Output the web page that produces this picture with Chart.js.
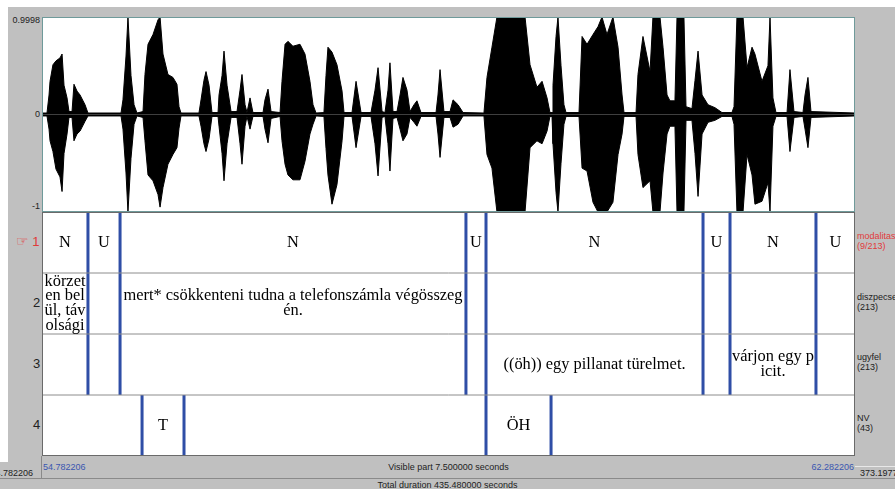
<!DOCTYPE html>
<html>
<head>
<meta charset="utf-8">
<script src="https://cdn.jsdelivr.net/npm/chart.js@4.4.1/dist/chart.umd.min.js"></script>
<style>
  html, body { margin: 0; padding: 0; background: #fff; }
  #frame { position: relative; width: 895px; height: 489px; background: #c0c0c0; overflow: hidden;
           font-family: "Liberation Sans", Arial, sans-serif; }
  .abs { position: absolute; white-space: nowrap; }
  .small { font-size: 9px; color: #222; line-height: 10px; }
  .tierno { font-size: 13px; color: #222; }
  canvas { position: absolute; }
</style>
</head>
<body>
<div id="frame">
  <div class="abs" style="left:0;top:0;width:895px;height:7px;background:#fff"></div>
  <div class="abs" style="left:0;top:0;width:8px;height:462px;background:#fff"></div>

  <!-- waveform amplitude ticks -->
  <div class="abs small" style="right:855px;top:15px">0.9998</div>
  <div class="abs small" style="right:855px;top:109px">0</div>
  <div class="abs small" style="right:855px;top:201px">-1</div>

  <!-- tier numbers -->
  <div class="abs tierno" style="left:16px;top:234px;color:#e03a3a"><span style="font-family:'DejaVu Sans';font-size:14px;line-height:13px">☞</span> 1</div>
  <div class="abs tierno" style="left:33px;top:295px">2</div>
  <div class="abs tierno" style="left:33px;top:356px">3</div>
  <div class="abs tierno" style="left:33px;top:417px">4</div>

  <!-- tier names -->
  <div class="abs small" style="left:857px;top:231px;color:#e03a3a">modalitas<br>(9/213)</div>
  <div class="abs small" style="left:857px;top:292px">diszpecser<br>(213)</div>
  <div class="abs small" style="left:857px;top:352px">ugyfel<br>(213)</div>
  <div class="abs small" style="left:857px;top:413px">NV<br>(43)</div>

  <!-- time strip -->
  <div class="abs" style="left:0;top:478px;width:895px;height:1px;background:#8a8a8a"></div>
  <div class="abs" style="left:41px;top:456px;width:1px;height:22px;background:#8a8a8a"></div>
  <div class="abs" style="left:855px;top:466px;width:40px;height:1px;background:#e8e8e8"></div>
  <div class="abs small" style="right:862px;top:468px" id="leftTime"></div>
  <div class="abs small" style="left:43px;top:462px;color:#3a56b0" id="startTime"></div>
  <div class="abs small" style="right:41px;top:462px;color:#3a56b0" id="endTime"></div>
  <div class="abs small" style="left:42px;width:813px;top:462px;text-align:center" id="visible"></div>
  <div class="abs small" style="left:860px;top:468px" id="rightTime"></div>
  <div class="abs small" style="left:0;width:895px;top:480px;text-align:center" id="total"></div>

  <canvas id="wave" style="left:42px;top:17px"></canvas>
  <canvas id="tiers" style="left:42px;top:212px"></canvas>
</div>
<script>
// visible window, seconds
const viewStart = 54.782206;
const viewLength = 7.5;
const totalDuration = 435.48;
const windowRight = 373.197794;

// waveform envelope: time offset (s), upper and lower amplitude
const envT = [0, .046, .065, .074, .101, .129, .166, .185, .203, .231, .249, .277, .295, .323, .351, .397, .424,
  .729, .747, .775, .793, .821, .849, .876, .932, .950, .978, 1.024, 1.070, 1.089, 1.116, 1.162, 1.208, 1.245, 1.264, 1.282,
  1.448, 1.467, 1.494, 1.513, 1.541, 1.568, 1.624, 1.633, 1.661, 1.679, 1.707, 1.744, 1.799, 1.827, 1.845, 1.873, 1.891,
  1.919, 1.946, 2.039, 2.057, 2.085, 2.113, 2.196, 2.214, 2.242, 2.269, 2.315, 2.380, 2.426, 2.472, 2.500, 2.528,
  2.601, 2.620, 2.638, 2.675, 2.721, 2.768, 2.786, 2.860, 2.897, 2.943, 3.035, 3.072, 3.100, 3.137, 3.164, 3.192, 3.210,
  3.238, 3.275, 3.303, 3.330, 3.367, 3.395, 3.432, 3.459, 3.496, 3.635, 3.653, 3.672, 3.708, 3.764, 3.792, 3.838, 3.884,
  4.077, 4.105, 4.151, 4.197, 4.456, 4.502, 4.566, 4.613, 4.659, 4.686, 4.705, 4.714, 4.742, 4.760, 4.788, 4.815, 4.834,
  4.954, 4.982, 5.028, 5.083, 5.129, 5.166, 5.212, 5.267, 5.314, 5.351, 5.369, 5.480, 5.498, 5.544, 5.609, 5.636, 5.701,
  5.729, 5.766, 5.793, 5.839, 5.858, 5.922, 5.941, 5.996, 6.024, 6.052, 6.089, 6.144, 6.208, 6.273, 6.365, 6.384, 6.411,
  6.467, 6.504, 6.550, 6.577, 6.642, 6.697, 6.716, 6.743, 6.771, 6.873, 6.900, 6.937, 7.020, 7.039, 7.066, 7.094, 7.5];
const envTop = [.015, .015, .2, .34, .51, .55, .58, .62, .3, .17, .03, .03, .31, .24, .2, .1, .015,
  .015, .15, .6, 1.0, .4, .1, .015, .03, .41, .72, .82, .97, 1.0, .62, .41, .38, .31, .08, .015,
  .015, .15, .35, .44, .3, .02, .02, .2, .4, .65, .3, .03, .03, .25, .41, .1, .02,
  .17, .02, .02, .15, .26, .03, .02, .34, .72, .75, .7, .72, .62, .34, .1, .015,
  .02, .4, .69, .64, .51, .24, .02, .02, .34, .02, .02, .25, .48, .03, .02, .25, .53,
  .03, .03, .2, .38, .25, .03, .1, .14, .02, .02, .2, .46, .03, .03, .15, .1, .02,
  .015, .38, .69, 1.0, 1.0, .51, .28, .34, .17, .02, .02, .3, .8, 1.0, .5, .1, .02,
  .02, .8, .72, .82, .9, 1.0, .82, 1.0, .69, .2, .02, .02, .41, .8, .44, 1.0, 1.0,
  .69, .2, .14, .14, 1.0, 1.0, .08, .06, .35, .65, .2, .1, .07, .02, .02, .08, 1.0,
  1.0, .48, .69, .62, .34, .5, 1.0, .17, .02, .02, .46, .03, .02, .2, .38, .03, .015];
const envBottom = [-.015, -.015, -.15, -.27, -.38, -.56, -.64, -.79, -.4, -.2, -.03, -.03, -.27, -.2, -.17, -.07, -.015,
  -.015, -.15, -.6, -1.0, -.45, -.1, -.015, -.03, -.27, -.62, -.68, -.82, -.95, -.75, -.51, -.41, -.34, -.14, -.015,
  -.015, -.12, -.3, -.38, -.25, -.02, -.02, -.12, -.4, -.68, -.3, -.03, -.03, -.3, -.51, -.12, -.02,
  -.15, -.02, -.02, -.15, -.29, -.04, -.02, -.27, -.51, -.62, -.67, -.67, -.48, -.2, -.1, -.015,
  -.02, -.35, -.62, -.92, -.72, -.27, -.02, -.02, -.34, -.02, -.02, -.3, -.63, -.03, -.02, -.3, -.58,
  -.04, -.03, -.15, -.27, -.2, -.03, -.08, -.12, -.02, -.02, -.2, -.44, -.03, -.03, -.13, -.1, -.015,
  -.015, -.41, -.55, -1.0, -1.0, -.34, -.27, -.3, -.17, -.02, -.02, -.3, -.8, -1.0, -.5, -.1, -.02,
  -.02, -.55, -.58, -.9, -1.0, -1.0, -1.0, -.9, -.41, -.2, -.02, -.02, -.41, -.75, -.68, -1.0, -1.0,
  -.6, -.2, -.12, -.12, -1.0, -1.0, -.06, -.06, -.4, -.84, -.2, -.08, -.06, -.02, -.02, -.1, -1.0,
  -1.0, -.41, -.62, -.92, -.89, -.7, -1.0, -.12, -.02, -.02, -.38, -.03, -.02, -.15, -.34, -.03, -.015];

// interval tiers (time offsets in s); texts use \n where the cell wraps
const tierNames = ['modalitas', 'diszpecser', 'ugyfel', 'NV'];
const tier1Bounds = [0.424, 0.720, 3.911, 4.096, 6.098, 6.347, 7.140];
const tier1Texts = ['N', 'U', 'N', 'U', 'N', 'U', 'N', 'U'];
const tier2Bounds = [0.424, 0.720, 3.911, 4.096, 6.098, 6.347, 7.140];
const tier2Texts = ['körzet\nen bel\nül, táv\nolsági', '', 'mert* csökkenteni tudna a telefonszámla végösszeg\nén.', '', '', '', '', ''];
const tier3Bounds = [0.424, 0.720, 3.911, 4.096, 6.098, 6.347, 7.140];
const tier3Texts = ['', '', '', '', '((öh)) egy pillanat türelmet.', '', 'várjon egy p\nicit.', ''];
const tier4Bounds = [0.923, 1.310, 4.096, 4.696];
const tier4Texts = ['', 'T', '', 'ÖH', ''];

const tierBounds = [tier1Bounds, tier2Bounds, tier3Bounds, tier4Bounds];
const tierTexts = [tier1Texts, tier2Texts, tier3Texts, tier4Texts];

document.getElementById('startTime').textContent = viewStart.toFixed(6);
document.getElementById('endTime').textContent = (viewStart + viewLength).toFixed(6);
document.getElementById('leftTime').textContent = viewStart.toFixed(6);
document.getElementById('rightTime').textContent = windowRight.toFixed(6);
document.getElementById('visible').textContent = 'Visible part ' + viewLength.toFixed(6) + ' seconds';
document.getElementById('total').textContent = 'Total duration ' + totalDuration.toFixed(6) + ' seconds';

Chart.defaults.animation = false;
Chart.defaults.plugins.legend.display = false;
Chart.defaults.plugins.tooltip.enabled = false;

function sizeCanvas(id, w, h) {
  const c = document.getElementById(id);
  c.width = w; c.height = h;
  c.style.width = w + 'px'; c.style.height = h + 'px';
  return c;
}

// frame around a chart area
const framePlugin = {
  id: 'frame',
  afterDraw(chart, args, opts) {
    const { ctx, chartArea: a } = chart;
    ctx.save();
    ctx.strokeStyle = opts.color;
    ctx.lineWidth = 1;
    ctx.strokeRect(a.left + 0.5, a.top + 0.5, a.right - a.left - 1, a.bottom - a.top - 1);
    ctx.restore();
  }
};

const whiteBg = {
  id: 'bg',
  beforeDraw(chart) {
    const { ctx } = chart;
    ctx.fillStyle = '#fff';
    ctx.fillRect(0, 0, chart.width, chart.height);
  }
};

// waveform
const waveCanvas = sizeCanvas('wave', 813, 195);
new Chart(waveCanvas, {
  type: 'line',
  data: {
    datasets: [
      {
        data: envT.map((t, i) => ({ x: t, y: envTop[i] })),
        borderColor: '#000', backgroundColor: '#000', borderWidth: 1,
        pointRadius: 0, fill: 'origin', tension: 0,
      },
      {
        data: envT.map((t, i) => ({ x: t, y: envBottom[i] })),
        borderColor: '#000', backgroundColor: '#000', borderWidth: 1,
        pointRadius: 0, fill: 'origin', tension: 0,
      },
    ],
  },
  options: {
    responsive: false,
    layout: { padding: 0 },
    scales: {
      x: { type: 'linear', min: 0, max: viewLength, display: false },
      y: { min: -1, max: 0.9998, display: false },
    },
    plugins: { frame: { color: '#6f9a9a' } },
  },
  plugins: [whiteBg, framePlugin],
});

// tiers: y runs 0..4 downwards, tier n fills [n-1, n]
const boundaryData = [];
tierBounds.forEach((bounds, i) => {
  bounds.forEach(t => {
    boundaryData.push({ x: t, y: i }, { x: t, y: i + 1 }, { x: t, y: null });
  });
});
const separatorData = [];
[1, 2, 3].forEach(n => {
  separatorData.push({ x: 0, y: n }, { x: viewLength, y: n }, { x: viewLength, y: null });
});

const tierTextPlugin = {
  id: 'tierText',
  afterDatasetsDraw(chart) {
    const { ctx, scales: { x, y } } = chart;
    ctx.save();
    ctx.fillStyle = '#000';
    ctx.font = '16.4px "Liberation Serif", "Times New Roman", serif';
    ctx.textAlign = 'center';
    ctx.textBaseline = 'middle';
    const lineH = 14.7;
    tierTexts.forEach((texts, i) => {
      const edges = [0, ...tierBounds[i], viewLength];
      const cy = y.getPixelForValue(i + 0.5);
      texts.forEach((txt, k) => {
        if (!txt) return;
        const cx = (x.getPixelForValue(edges[k]) + x.getPixelForValue(edges[k + 1])) / 2;
        const lines = txt.split('\n');
        lines.forEach((ln, j) => {
          ctx.fillText(ln, cx, cy + (j - (lines.length - 1) / 2) * lineH);
        });
      });
    });
    ctx.restore();
  }
};

const tierCanvas = sizeCanvas('tiers', 813, 244);
new Chart(tierCanvas, {
  type: 'line',
  data: {
    datasets: [
      {
        data: separatorData, borderColor: '#8c8c8c', borderWidth: 1,
        pointRadius: 0, spanGaps: false, fill: false,
      },
      {
        data: boundaryData, borderColor: '#2f4ea6', borderWidth: 3,
        pointRadius: 0, spanGaps: false, fill: false,
      },
    ],
  },
  options: {
    responsive: false,
    layout: { padding: 0 },
    scales: {
      x: { type: 'linear', min: 0, max: viewLength, display: false },
      y: { min: 0, max: 4, reverse: true, display: false },
    },
    plugins: { frame: { color: '#6a6a6a' } },
  },
  plugins: [whiteBg, tierTextPlugin, framePlugin],
});
</script>
</body>
</html>
